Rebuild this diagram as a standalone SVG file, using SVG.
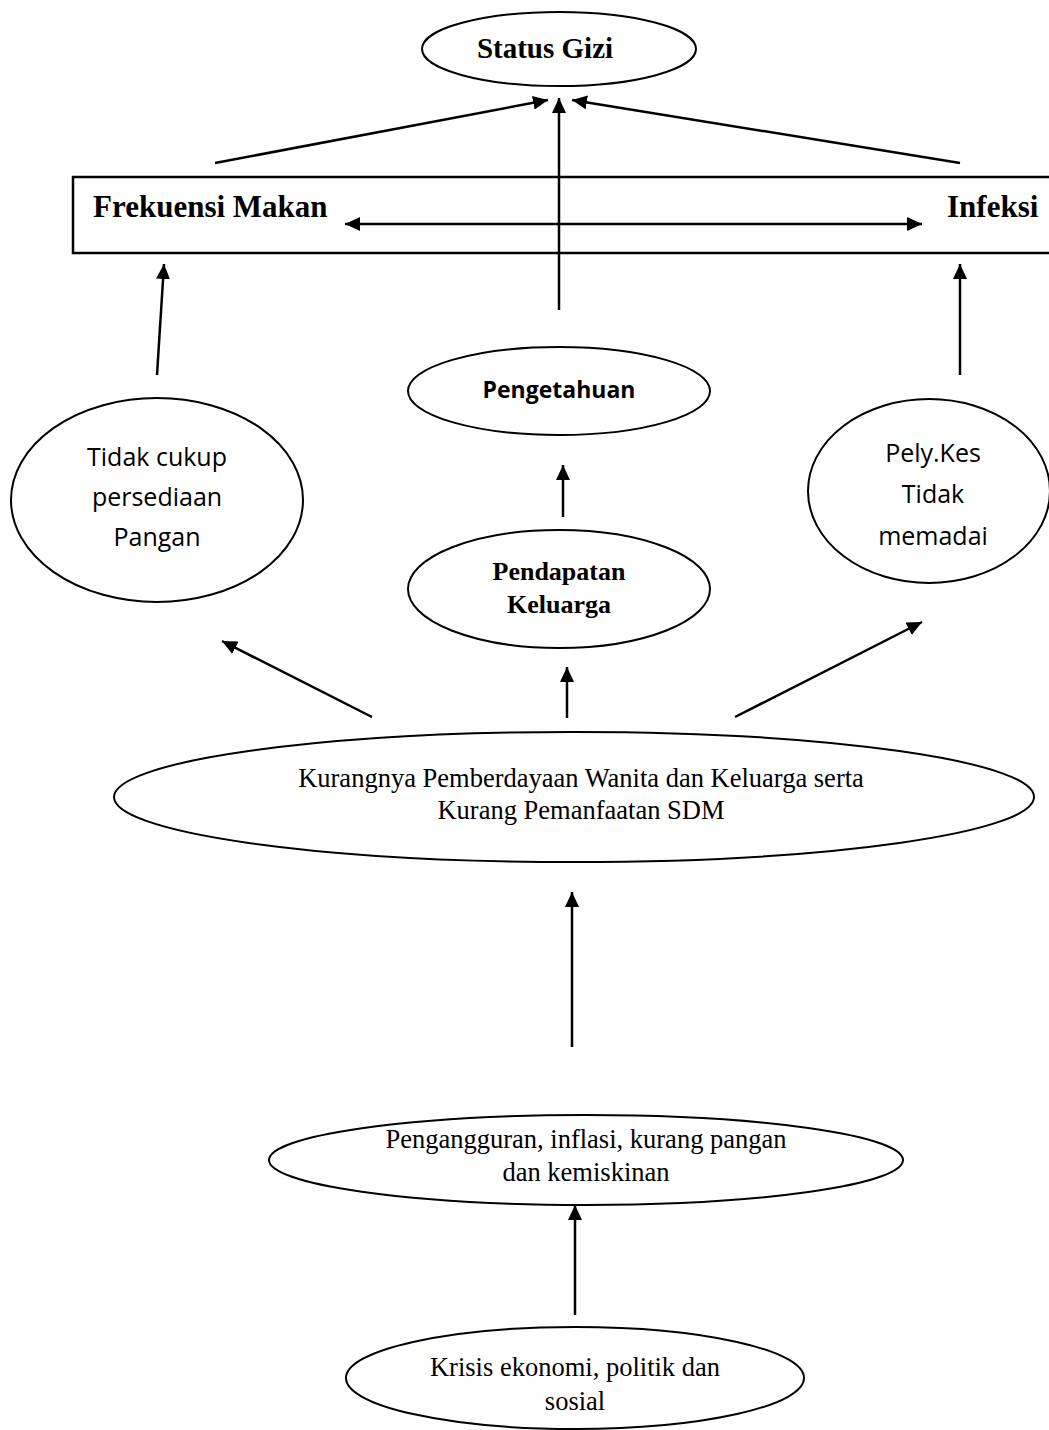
<svg xmlns="http://www.w3.org/2000/svg" width="1049" height="1430" viewBox="0 0 1049 1430">
<style>
.node{fill:#fff;stroke:#000;stroke-width:2}
.ser{font-family:"Liberation Serif","Times New Roman",serif;fill:#000;text-anchor:middle}
.sb{font-family:"Liberation Serif","Times New Roman",serif;font-weight:bold;fill:#000}
.sans{font-family:"Open Sans","Noto Sans",sans-serif;fill:#000;text-anchor:middle}
.edge{stroke:#000;stroke-width:2.5;fill:none}
</style>
<defs>
<marker id="ah" markerUnits="userSpaceOnUse" markerWidth="16" markerHeight="14" refX="15" refY="7" orient="auto-start-reverse">
<path d="M0,0 L15,7 L0,14 z" fill="#000"/>
</marker>
</defs>
<rect width="1049" height="1430" fill="#fff"/>
<g id="status-gizi">
<ellipse class="node" cx="559" cy="49" rx="137" ry="37"/>
<text class="sb" x="545" y="58" font-size="29" text-anchor="middle">Status Gizi</text>
</g>
<g id="frekuensi-infeksi-box">
<rect x="73" y="177" width="990" height="76" fill="none" stroke="#000" stroke-width="2.5"/>
</g>
<g id="frekuensi-makan">
<text class="sb" x="93" y="217" font-size="31">Frekuensi Makan</text>
</g>
<g id="infeksi">
<text class="sb" x="947" y="217" font-size="31">Infeksi</text>
</g>
<g id="pengetahuan">
<ellipse class="node" cx="559" cy="391" rx="151" ry="44"/>
<text class="sans" x="559" y="398" font-size="23" font-weight="bold">Pengetahuan</text>
</g>
<g id="tidak-cukup">
<ellipse class="node" cx="157" cy="500" rx="146" ry="102"/>
<text class="sans" x="157" y="466" font-size="25">Tidak cukup</text>
<text class="sans" x="157" y="506" font-size="25">persediaan</text>
<text class="sans" x="157" y="546" font-size="25">Pangan</text>
</g>
<g id="pelykes">
<ellipse class="node" cx="929" cy="491" rx="121" ry="92"/>
<text class="sans" x="933" y="462" font-size="25">Pely.Kes</text>
<text class="sans" x="933" y="503" font-size="25">Tidak</text>
<text class="sans" x="933" y="545" font-size="25">memadai</text>
</g>
<g id="pendapatan">
<ellipse class="node" cx="559" cy="589" rx="151" ry="59"/>
<text class="sb" x="559" y="580" font-size="26" text-anchor="middle">Pendapatan</text>
<text class="sb" x="559" y="613" font-size="26" text-anchor="middle">Keluarga</text>
</g>
<g id="kurangnya">
<ellipse class="node" cx="574" cy="797" rx="460" ry="65"/>
<text class="ser" x="581" y="787" font-size="26.5">Kurangnya Pemberdayaan Wanita dan Keluarga serta</text>
<text class="ser" x="581" y="819" font-size="26.5">Kurang Pemanfaatan SDM</text>
</g>
<g id="pengangguran">
<ellipse class="node" cx="586" cy="1160" rx="317" ry="45"/>
<text class="ser" x="586" y="1148" font-size="26.5">Pengangguran, inflasi, kurang pangan</text>
<text class="ser" x="586" y="1181" font-size="26.5">dan kemiskinan</text>
</g>
<g id="krisis">
<ellipse class="node" cx="575" cy="1378" rx="229" ry="51"/>
<text class="ser" x="575" y="1376" font-size="26.5">Krisis ekonomi, politik dan</text>
<text class="ser" x="575" y="1410" font-size="26.5">sosial</text>
</g>
<g id="connectors">
<line class="edge" x1="215" y1="163" x2="548" y2="100" marker-end="url(#ah)"/>
<line class="edge" x1="559" y1="310" x2="559" y2="98" marker-end="url(#ah)"/>
<line class="edge" x1="960" y1="163" x2="572" y2="100" marker-end="url(#ah)"/>
<line class="edge" x1="345" y1="224" x2="922" y2="224" marker-start="url(#ah)" marker-end="url(#ah)"/>
<line class="edge" x1="157" y1="375" x2="164" y2="264" marker-end="url(#ah)"/>
<line class="edge" x1="960" y1="375" x2="960" y2="264" marker-end="url(#ah)"/>
<line class="edge" x1="563" y1="517" x2="563" y2="465" marker-end="url(#ah)"/>
<line class="edge" x1="372" y1="717" x2="222" y2="641" marker-end="url(#ah)"/>
<line class="edge" x1="567" y1="718" x2="567" y2="667" marker-end="url(#ah)"/>
<line class="edge" x1="735" y1="717" x2="922" y2="622" marker-end="url(#ah)"/>
<line class="edge" x1="572" y1="1047" x2="572" y2="892" marker-end="url(#ah)"/>
<line class="edge" x1="575" y1="1315" x2="575" y2="1205" marker-end="url(#ah)"/>
</g>
</svg>
